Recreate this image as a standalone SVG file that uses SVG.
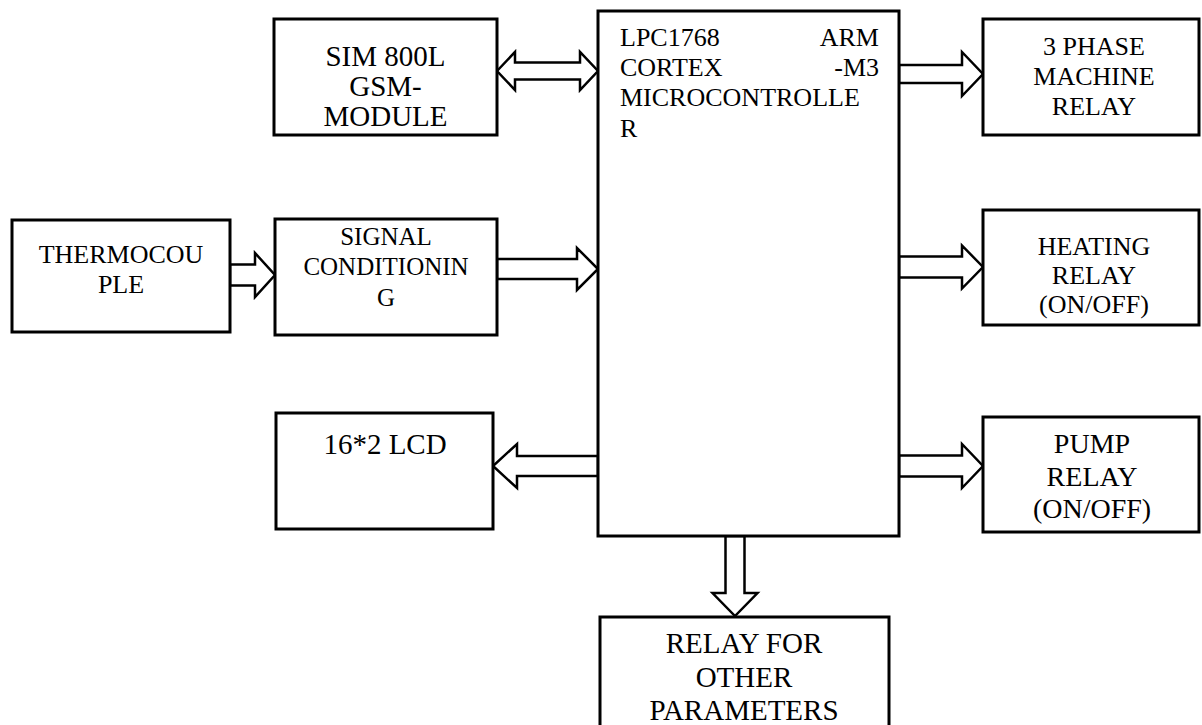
<svg xmlns="http://www.w3.org/2000/svg" width="1202" height="725" viewBox="0 0 1202 725" font-family="'Liberation Serif', 'Times New Roman', serif">
<style>
.box{fill:#fff;stroke:#000;stroke-width:3}
.arr{fill:#fff;stroke:#000;stroke-width:2.5;stroke-linejoin:miter}
.t{font-family:'Liberation Serif','Times New Roman',serif;fill:#000}
.c{text-anchor:middle}
</style>
<rect width="1202" height="725" fill="#fff"/>
<g id="connectors">
<polygon class="arr" points="497,71 515,52 515,62.5 580,62.5 580,52 598,71 580,90 580,79.5 515,79.5 515,90"/>
<polygon class="arr" points="230,264.5 255,264.5 255,253 275,275 255,297 255,285.5 230,285.5"/>
<polygon class="arr" points="497,259 577,259 577,248 598,269 577,290 577,279 497,279"/>
<polygon class="arr" points="899,65 962,65 962,52 983,74 962,96 962,83 899,83"/>
<polygon class="arr" points="899,256.5 962,256.5 962,245.5 983,267 962,288.5 962,277.5 899,277.5"/>
<polygon class="arr" points="598,456 517,456 517,444 493,466 517,488 517,476 598,476"/>
<polygon class="arr" points="899,455.5 962,455.5 962,444 983,466 962,488 962,476.5 899,476.5"/>
<polygon class="arr" points="725.5,536 725.5,593 712.5,593 735,616 757.5,593 744.5,593 744.5,536"/>
</g>
<g id="sim" class="t">
<rect class="box" x="274" y="19" width="223" height="116"/>
<text class="c" x="385.5" y="66" font-size="29">SIM 800L</text>
<text class="c" x="385.5" y="96" font-size="29">GSM-</text>
<text class="c" x="385.5" y="126" font-size="29">MODULE</text>
</g>
<g id="thermocouple" class="t">
<rect class="box" x="12" y="220" width="218" height="112"/>
<text class="c" x="121" y="263" font-size="26">THERMOCOU</text>
<text class="c" x="121" y="293" font-size="26">PLE</text>
</g>
<g id="signal" class="t">
<rect class="box" x="275" y="219" width="222" height="116"/>
<text class="c" x="386" y="245" font-size="25">SIGNAL</text>
<text class="c" x="386" y="275" font-size="25">CONDITIONIN</text>
<text class="c" x="386" y="306" font-size="25">G</text>
</g>
<g id="lcd" class="t">
<rect class="box" x="276" y="413" width="217" height="116"/>
<text class="c" x="385" y="454" font-size="29">16*2 LCD</text>
</g>
<g id="mcu" class="t">
<rect class="box" x="598" y="11" width="301" height="525"/>
<text x="620" y="46" font-size="26">LPC1768</text>
<text x="879" y="46" font-size="26" text-anchor="end">ARM</text>
<text x="620" y="76" font-size="26">CORTEX</text>
<text x="879" y="76" font-size="26" text-anchor="end">-M3</text>
<text x="620" y="106" font-size="26">MICROCONTROLLE</text>
<text x="620" y="137" font-size="26">R</text>
</g>
<g id="phase" class="t">
<rect class="box" x="983" y="19" width="216" height="116"/>
<text class="c" x="1094" y="55" font-size="26">3 PHASE</text>
<text class="c" x="1094" y="85" font-size="26">MACHINE</text>
<text class="c" x="1094" y="115" font-size="26">RELAY</text>
</g>
<g id="heating" class="t">
<rect class="box" x="983" y="210" width="216" height="115"/>
<text class="c" x="1094" y="255" font-size="26">HEATING</text>
<text class="c" x="1094" y="284" font-size="26">RELAY</text>
<text class="c" x="1094" y="313" font-size="26">(ON/OFF)</text>
</g>
<g id="pump" class="t">
<rect class="box" x="983" y="417" width="216" height="115"/>
<text class="c" x="1092" y="453" font-size="28">PUMP</text>
<text class="c" x="1092" y="486" font-size="28">RELAY</text>
<text class="c" x="1092" y="518" font-size="28">(ON/OFF)</text>
</g>
<g id="relay-other" class="t">
<rect class="box" x="600" y="617" width="289" height="140"/>
<text class="c" x="744" y="653" font-size="29">RELAY FOR</text>
<text class="c" x="744" y="687" font-size="29">OTHER</text>
<text class="c" x="744" y="720" font-size="29">PARAMETERS</text>
</g>
</svg>
